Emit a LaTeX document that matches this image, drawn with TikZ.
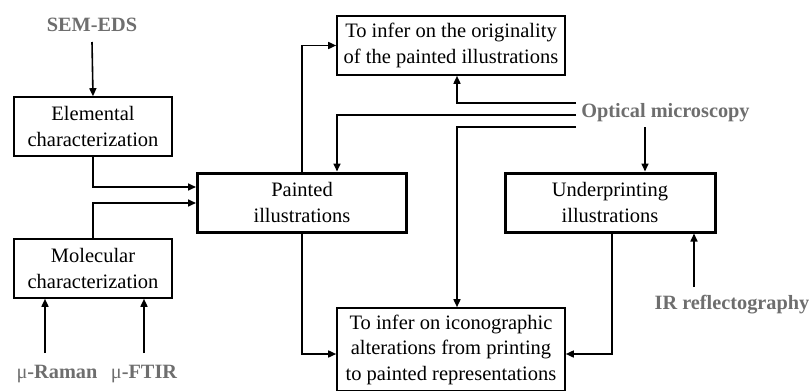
\documentclass[tikz,border=0pt]{standalone}
\usepackage{fontspec}
\setmainfont{Liberation Serif}
\usetikzlibrary{arrows.meta}
\definecolor{lbl}{RGB}{110,110,110}
\newcommand{\mymu}{{\mdseries μ}}
\begin{document}
\begin{tikzpicture}[x=1pt,y=-1pt,
  font=\fontsize{20.5}{25.5}\selectfont,
  box/.style={draw, line width=1.6pt, inner sep=0pt, align=center},
  bbox/.style={box, line width=3pt},
  lab/.style={text=lbl, font=\fontsize{20.3}{24}\selectfont\bfseries, inner sep=0pt},
  conn/.style={line width=1.6pt, -{Triangle[length=8pt,width=7pt]}}]
\useasboundingbox (0,0) rectangle (809,391);
\node[box, minimum width=158, minimum height=59] (elem) at (93,126.5) {Elemental\\characterization};
\node[box, minimum width=158, minimum height=59] (mol) at (93,268.5) {Molecular\\characterization};
\node[bbox, minimum width=209, minimum height=59] (paint) at (302,202.5) {Painted\\illustrations};
\node[bbox, minimum width=210, minimum height=59] (under) at (610,202.5) {Underprinting\\illustrations};
\node[box, minimum width=228, minimum height=59] (orig) at (451,45.5) {To infer on the originality\\of the painted illustrations};
\node[box, minimum width=228, minimum height=83] (icon) at (451,349.5) {To infer on iconographic\\alterations from printing\\to painted representations};
\node[lab] (sem) at (92,25) {SEM-EDS};
\node[lab] (ram) at (57,374) {\mymu-Raman};
\node[lab] (ftir) at (144,374) {\mymu-FTIR};
\node[lab] (opt) at (665.5,113) {Optical microscopy};
\node[lab] (ir) at (732,305) {IR reflectography};
\coordinate (o1) at (576,103);
\coordinate (o2) at (576,115);
\coordinate (o3) at (576,127);
% SEM-EDS
\draw[conn] (sem.south |- 0,42) -- (elem.north);
\draw[conn] (45,353) -- (mol.south -| 45,0);
\draw[conn] (144,353) -- (mol.south -| 144,0);
% to painted
\draw[conn] (elem.south) |- (paint.west |- 0,187);
\draw[conn] (mol.north) |- (paint.west |- 0,203);
% painted to outputs
\draw[conn] (paint.north) |- (orig.west);
\draw[conn] (paint.south) |- (icon.west |- 0,354);
% optical microscopy
\draw[conn] (o1) -| (orig.south -| 457,0);
\draw[conn] (o2) -| (paint.north -| 337,0);
\draw[conn] (o3) -| (icon.north -| 457,0);
\draw[conn] (645,127) -- (under.north -| 645,0);
% underprinting
\draw[conn] (under.south -| 612,0) |- (icon.east |- 0,354);
\draw[conn] (694,287) -- (under.south -| 694,0);
\end{tikzpicture}
\end{document}
